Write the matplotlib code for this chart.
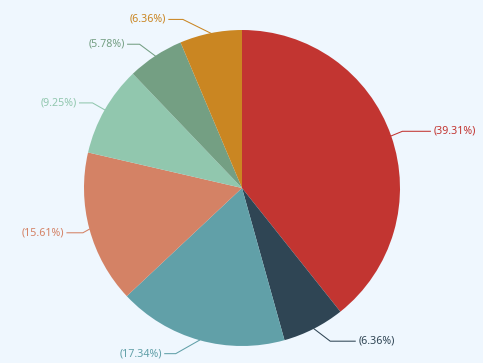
import numpy as np
import matplotlib
matplotlib.use("Agg")
import matplotlib.pyplot as plt

# slice data, clockwise from 12 o'clock
labels = ["(39.31%)", "(6.36%)", "(17.34%)", "(15.61%)", "(9.25%)", "(5.78%)", "(6.36%)"]
values = [39.31, 6.36, 17.34, 15.61, 9.25, 5.78, 6.36]
colors = ["#c23531", "#2f4554", "#61a0a8", "#d48265", "#91c7ae", "#749f83", "#ca8622"]

# leader line tweaks (px): outward shift of the elbow, length of horizontal part
elbow_shift = [-2, 10, 20, -7, 0, 8, 25]
leg2 = [28, 25, 11, 16, 13, 12, 14]

W, H = 483, 363
bg = "#eff7fe"
cx, cy, r = 242, H - 188, 158

fig = plt.figure(figsize=(W / 100, H / 100), dpi=100, facecolor=bg)
ax = fig.add_axes([0, 0, 1, 1])
ax.set_facecolor(bg)

wedges, _ = ax.pie(values, colors=colors, startangle=90, counterclock=False,
                   center=(cx, cy), radius=r, frame=True,
                   wedgeprops=dict(linewidth=0))
ax.set_xlim(0, W)
ax.set_ylim(0, H)
ax.set_aspect("equal")
ax.axis("off")

# leader lines + labels
len1, gap = 14, 3
for w, lab, c, sh, l2 in zip(wedges, labels, colors, elbow_shift, leg2):
    ang = np.deg2rad((w.theta1 + w.theta2) / 2)
    side = 1 if np.cos(ang) >= 0 else -1
    ex, ey = cx + r * np.cos(ang), cy + r * np.sin(ang)
    mx = cx + (r + len1) * np.cos(ang) + side * sh
    my = cy + (r + len1) * np.sin(ang)
    tx = mx + side * l2
    ax.plot([ex, mx, tx], [ey, my, my], color=c, lw=0.75, solid_joinstyle="miter")
    ax.text(tx + side * gap, my, lab, color=c, fontsize=7.7, family="Noto Sans",
            ha="left" if side > 0 else "right", va="center")

fig.savefig("out.png", dpi=100, facecolor=bg)
